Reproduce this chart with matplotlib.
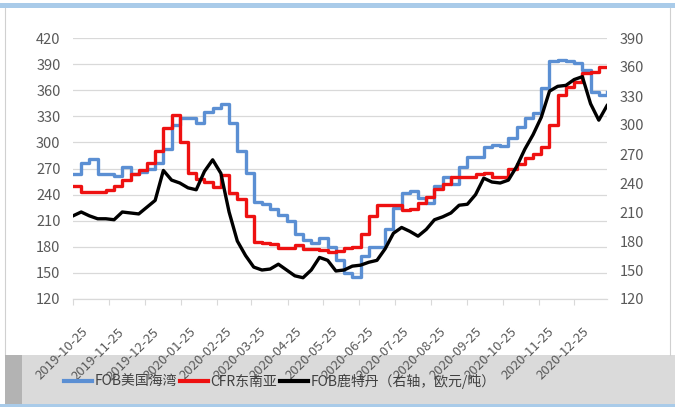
import matplotlib
matplotlib.use("Agg")
import matplotlib.pyplot as plt
import matplotlib.transforms as mtransforms
from matplotlib.patches import Rectangle
from matplotlib.lines import Line2D
import pandas as pd

plt.rcParams['font.family'] = ['Noto Sans CJK SC', 'DejaVu Sans']

# weekly prices, starting 2019-10-25
fob_us_gulf = [264, 276, 281, 264, 264, 261, 272, 264, 266, 269,
               276, 292, 320, 328, 328, 322, 335, 339, 344, 322,
               290, 265, 232, 229, 224, 216, 210, 195, 188, 184,
               190, 180, 165, 150, 145, 170, 180, 180, 200, 225,
               242, 244, 236, 230, 250, 260, 252, 272, 283, 283,
               295, 297, 296, 305, 318, 328, 334, 362, 393, 395,
               394, 391, 383, 358, 354, 358]
cfr_se_asia = [250, 243, 243, 243, 245, 250, 257, 264, 268, 276,
               290, 317, 331, 300, 265, 258, 254, 249, 262, 242,
               235, 215, 186, 184, 183, 179, 179, 182, 178, 177,
               176, 174, 175, 179, 180, 195, 215, 228, 228, 228,
               222, 224, 230, 237, 247, 252, 260, 260, 260, 264,
               265, 260, 260, 270, 275, 282, 287, 295, 320, 355,
               364, 370, 380, 381, 387, 387]
fob_rotterdam = [206, 210, 206, 203, 203, 202, 210, 209, 208, 215,
                 222, 253, 243, 240, 235, 233, 252, 264, 250, 210,
                 180, 165, 153, 150, 151, 156, 150, 144, 142, 150,
                 163, 160, 149, 150, 154, 155, 158, 160, 172, 188,
                 194, 190, 185, 192, 202, 205, 209, 217, 218, 228,
                 245, 241, 240, 243, 257, 275, 290, 308, 335, 340,
                 341, 347, 350, 322, 305, 320]
dates = pd.date_range('2019-10-25', periods=len(fob_us_gulf), freq='7D')

tick_labels = ['2019-10-25', '2019-11-25', '2019-12-25', '2020-01-25', '2020-02-25',
               '2020-03-25', '2020-04-25', '2020-05-25', '2020-06-25', '2020-07-25',
               '2020-08-25', '2020-09-25', '2020-10-25', '2020-11-25', '2020-12-25']
names = ['FOB美国海湾', 'CFR东南亚', 'FOB鹿特丹（右轴，欧元/吨）']
colors = ['#5b8fd3', '#ee1111', '#000000']

W, H = 675, 407
fig = plt.figure(figsize=(W / 100, H / 100), dpi=100)
fig.patch.set_facecolor('white')

# frame pieces of the screenshot
fig.add_artist(Rectangle((0, 1 - 8 / H), 1, 5 / H, transform=fig.transFigure,
                         facecolor='#a9cbe9', edgecolor='none', zorder=-5))
fig.add_artist(Rectangle((5 / W, 3 / H), 1 - 5 / W, 49 / H, transform=fig.transFigure,
                         facecolor='#dadada', edgecolor='none', zorder=-5))
fig.add_artist(Rectangle((5 / W, 3 / H), 17 / W, 49 / H, transform=fig.transFigure,
                         facecolor='#b3b3b3', edgecolor='none', zorder=-4))
fig.add_artist(Rectangle((0, 0), 1, 3 / H, transform=fig.transFigure,
                         facecolor='#a9cbe9', edgecolor='none', zorder=-5))
fig.add_artist(Line2D([5 / W, 5 / W], [52 / H, 1 - 8 / H], transform=fig.transFigure,
                      color='#d0d0d0', lw=0.8, zorder=-5))
fig.add_artist(Line2D([670 / W, 670 / W], [52 / H, 1 - 8 / H], transform=fig.transFigure,
                      color='#d0d0d0', lw=0.8, zorder=-5))

ax = fig.add_axes([73 / W, 1 - 299 / H, 534 / W, 261 / H])
ax2 = ax.twinx()

ax.plot(dates, fob_us_gulf, color=colors[0], lw=2.4, drawstyle='steps-post', zorder=3)
ax.plot(dates, cfr_se_asia, color=colors[1], lw=2.4, drawstyle='steps-post', zorder=4)
ax2.plot(dates, fob_rotterdam, color=colors[2], lw=2.4, zorder=5)

ax.set_ylim(120, 420)
ax.set_yticks(range(120, 421, 30))
ax2.set_ylim(120, 390)
ax2.set_yticks(range(120, 391, 30))
ax.set_xlim(pd.Timestamp('2019-10-25'), pd.Timestamp('2021-01-22'))

ax.grid(axis='y', color='#d9d9d9', lw=0.9)
ax.set_axisbelow(True)
for a in (ax, ax2):
    for s in ('top', 'left', 'right'):
        a.spines[s].set_visible(False)
    a.spines['bottom'].set_color('#d9d9d9')
ax.tick_params(axis='y', length=0, labelsize=10.5, labelcolor='#595959', pad=9)
ax2.tick_params(axis='y', length=0, labelsize=10.5, labelcolor='#595959', pad=9)

ax.set_xticks(pd.to_datetime(tick_labels))
ax.set_xticklabels(tick_labels, rotation=45, ha='right', va='top', rotation_mode='anchor')
ax.tick_params(axis='x', length=4, color='#d9d9d9', labelsize=9.5, labelcolor='#595959', pad=15)
shift = mtransforms.ScaledTranslation(8 / 100, 0, fig.dpi_scale_trans)
for lab in ax.get_xticklabels():
    lab.set_transform(lab.get_transform() + shift)

handles = [Line2D([], [], color=c, lw=3) for c in colors]
fig.legend(handles, names, loc='center', bbox_to_anchor=(0.415, 1 - 381 / H), ncol=3,
           frameon=False, fontsize=10, handlelength=2.0, handletextpad=0.2,
           columnspacing=0.2, labelcolor='#404040')

fig.savefig('out.png', dpi=100)
